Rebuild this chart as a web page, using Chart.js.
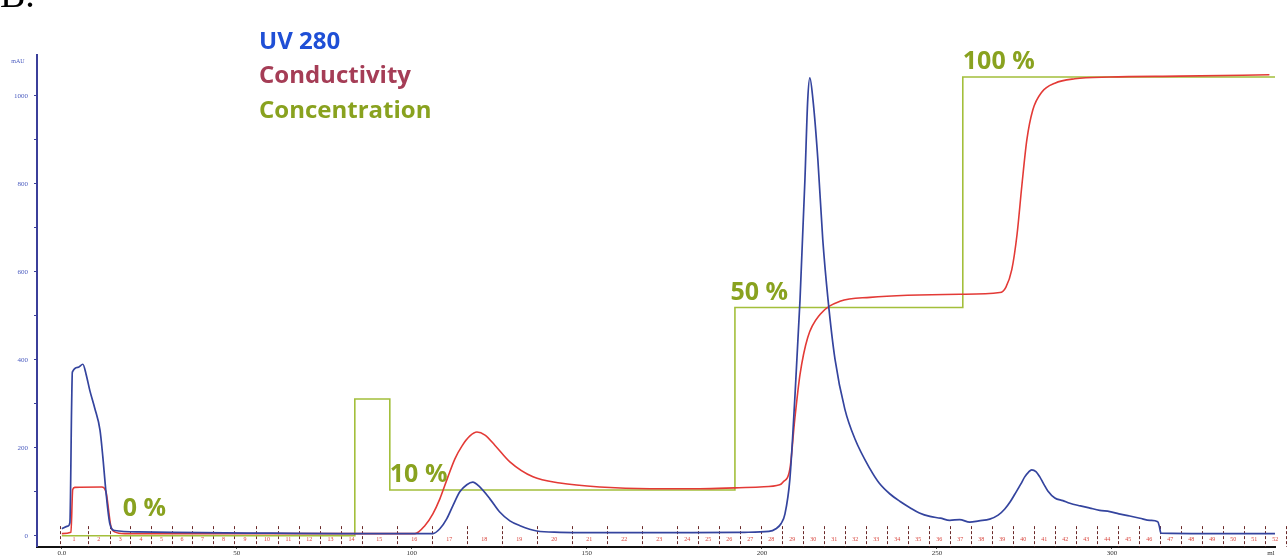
<!DOCTYPE html>
<html>
<head>
<meta charset="utf-8">
<style>
  html, body { margin: 0; padding: 0; background: #ffffff; }
  canvas { display: block; }
</style>
<script src="https://cdn.jsdelivr.net/npm/chart.js@4.4.1/dist/chart.umd.min.js"></script>
</head>
<body>
<canvas id="chrom" width="1287" height="557"></canvas>
<script>
// Elution volume (ml) and UV 280 absorbance (mAU)
const uvVolume = [0, 1.7, 2.3, 2.8, 3.0, 4.6, 6.0, 6.9, 8.0, 9.4, 10.9, 11.7, 12.6, 13.7, 15.1, 22, 40, 60, 80, 100,
  106, 108, 110, 111.7, 113.7, 115.7, 117.4, 119.4, 122.3, 125.1, 128, 130.9, 135.7, 142.3, 150, 165, 180, 195,
  202, 204, 205.5, 206.6, 208, 209.4, 210.9, 212.3, 213.1, 213.7, 214.6, 216, 217.4, 218.9, 220.9, 223.7, 226.6, 230.9, 233.5, 236.6,
  239.5, 242.3, 245, 248, 251, 253.7, 256.5, 259.4, 262, 265.1, 267.5, 269.4, 271, 272.3, 274, 275.1, 276.2, 277.1, 278.3, 279.4,
  280.5, 281.7, 283.7, 286, 288, 291, 293.7, 296.5, 299.4, 302, 305.1, 308, 310.9, 313.1, 313.6, 314, 330, 346.6];
const uvAbs = [16, 22, 30, 300, 372, 383, 390, 368, 330, 290, 240, 180, 100, 28, 12, 9, 7, 6, 5, 5,
  5, 16, 39, 68, 100, 116, 122, 111, 84, 54, 34, 23, 11, 8, 7, 7, 7, 8,
  10, 16, 28, 50, 129, 311, 537, 810, 991, 1041, 991, 855, 673, 537, 401, 288, 220, 152, 120, 95,
  78, 64, 52, 44, 40, 35, 37, 31, 34, 38, 47, 61, 78, 95, 118, 134, 145, 150, 146, 134,
  118, 102, 86, 80, 74, 68, 63, 58, 55, 50, 45, 40, 35, 32, 20, 6, 5, 5];

// Conductivity trace (scaled to the same axis)
const condVolume = [0, 2.6, 3.1, 3.7, 11.4, 12.6, 14, 15.1, 18, 40, 80, 100.9,
  103.7, 106, 108, 110.3, 112.3, 114.3, 116.6, 118.6, 120.9, 123.7, 128, 134.6, 142.3, 153.7, 168, 182.3, 192.3, 199.4, 205.1,
  206, 208, 209.4, 210.9, 213.1, 216.6, 222.3, 230.9, 256.6, 268, 269.7, 271.4, 272.9, 274.3, 275.7, 277.4, 280, 283.7, 289.4, 299.4, 319.4, 345];
const condValue = [5, 8, 105, 110, 111, 100, 22, 9, 5, 5, 5, 5,
  23, 50, 84, 134, 175, 204, 227, 236, 229, 206, 168, 134, 120, 111, 107, 107, 109, 111, 116,
  122, 152, 265, 367, 451, 503, 533, 542, 549, 553, 565, 605, 685, 798, 900, 968, 1009, 1029, 1039, 1043, 1045, 1048];

// Buffer B concentration programme: step start volumes and levels
const concVolume = [0, 83.7, 93.7, 192.3, 257.4, 346.6];
const concLevel = [0, 311, 104, 519, 1043, 1043];
const concLabels = ['0 %', '10 %', '50 %', '100 %'];
const concLabelAt = [[17.4, 61], [93.7, 138], [191, 553], [257.4, 1077]];

// Fraction collector edges (ml) and numbering
const fracEdges = [-0.5, 7.4, 13.7, 19.6, 25.6, 31.4, 37.2, 43.2, 49.2, 55.5, 61.7, 67.7, 73.7, 79.8, 85.7,
  95.7, 105.7, 115.7, 125.7, 135.7, 145.7, 155.7, 165.7, 175.7,
  181.7, 187.7, 193.7, 199.7, 205.7, 211.7, 217.7, 223.7, 229.7, 235.7, 241.7, 247.7, 253.7, 259.7,
  265.7, 271.7, 277.7, 283.7, 289.7, 295.7, 301.7, 307.7, 313.7, 319.7, 325.7, 331.7, 337.7, 343.7, 349.7];

// Axis ticks
const xTicks = [0, 50, 100, 150, 200, 250, 300];
const yTicks = [0, 100, 200, 300, 400, 500, 600, 700, 800, 900, 1000];

const pts = (xs, ys) => xs.map((x, i) => ({ x: x, y: ys[i] }));

const OLIVE = '#89a21f';
const NAME_FONT = 'bold 24px "Open Sans"';
const STEP_FONT = 'bold 25px "Open Sans"';

const annotations = {
  id: 'annotations',
  beforeDatasetsDraw(chart) {
    const { ctx, scales: { x, y }, chartArea } = chart;
    ctx.save();
    const top = y.getPixelForValue(22);
    const bottom = chartArea.bottom;
    ctx.lineWidth = 1;
    ctx.setLineDash([3, 2]);
    ctx.strokeStyle = '#6b2a2a';
    fracEdges.forEach(v => {
      const px = Math.round(x.getPixelForValue(v)) + 0.5;
      ctx.beginPath();
      ctx.moveTo(px, top);
      ctx.lineTo(px, bottom);
      ctx.stroke();
    });
    ctx.setLineDash([]);
    ctx.fillStyle = '#d8463e';
    ctx.font = '6px "Liberation Serif"';
    ctx.textAlign = 'center';
    ctx.textBaseline = 'middle';
    const ly = y.getPixelForValue(-9);
    for (let i = 0; i < fracEdges.length - 1; i++) {
      const mid = (fracEdges[i] + fracEdges[i + 1]) / 2;
      ctx.fillText(String(i + 1), x.getPixelForValue(mid), ly);
    }
    ctx.restore();
  },
  afterDraw(chart) {
    const { ctx, scales: { x, y }, chartArea } = chart;
    ctx.save();
    // panel letter
    ctx.fillStyle = '#000';
    ctx.font = '38px "Liberation Serif"';
    ctx.textAlign = 'left';
    ctx.textBaseline = 'alphabetic';
    ctx.fillText('B.', 0, 7);

    // trace names
    ctx.font = NAME_FONT;
    ctx.textBaseline = 'middle';
    ctx.fillStyle = '#1f4fd6';
    ctx.fillText('UV 280', 259, 42);
    ctx.fillStyle = '#a53d56';
    ctx.fillText('Conductivity', 259, 76);
    ctx.fillStyle = OLIVE;
    ctx.fillText('Concentration', 259, 111);

    // concentration step labels
    ctx.font = STEP_FONT;
    ctx.fillStyle = OLIVE;
    concLabels.forEach((t, i) => {
      const [vx, vy] = concLabelAt[i];
      ctx.fillText(t, x.getPixelForValue(vx), y.getPixelForValue(vy));
    });

    // axis units
    ctx.font = '6px "Liberation Serif"';
    ctx.fillStyle = '#4a5bbf';
    ctx.textAlign = 'center';
    ctx.fillText('mAU', 18, chartArea.top + 6);
    ctx.font = '7px "Liberation Serif"';
    ctx.fillStyle = '#333';
    ctx.textBaseline = 'top';
    ctx.fillText('ml', chartArea.right - 4, chartArea.bottom + 3);
    ctx.restore();
  }
};

new Chart(document.getElementById('chrom'), {
  type: 'line',
  data: {
    datasets: [
      {
        label: 'UV 280',
        data: pts(uvVolume, uvAbs),
        borderColor: '#34449e',
        borderWidth: 1.7,
        pointRadius: 0,
        cubicInterpolationMode: 'monotone',
        order: 1
      },
      {
        label: 'Conductivity',
        data: pts(condVolume, condValue),
        borderColor: '#e33a36',
        borderWidth: 1.6,
        pointRadius: 0,
        cubicInterpolationMode: 'monotone',
        order: 2
      },
      {
        label: 'Concentration',
        data: pts(concVolume, concLevel),
        borderColor: '#a3bf3b',
        borderWidth: 1.6,
        pointRadius: 0,
        stepped: 'before',
        order: 3
      }
    ]
  },
  options: {
    responsive: false,
    animation: false,
    layout: { padding: { top: 55, right: 12, left: 0, bottom: 0 } },
    plugins: { legend: { display: false }, tooltip: { enabled: false } },
    scales: {
      x: {
        type: 'linear',
        min: -7.1,
        max: 346.6,
        afterBuildTicks: s => { s.ticks = xTicks.map(v => ({ value: v })); },
        afterFit: s => { s.height = 9; },
        grid: { drawOnChartArea: false, drawTicks: true, tickLength: 2, color: '#222' },
        border: { display: true, color: '#111', width: 2 },
        ticks: {
          autoSkip: false, maxRotation: 0, padding: 0, color: '#333',
          font: { size: 7, family: 'Liberation Serif' },
          callback: v => (v === 0 ? '0.0' : String(v))
        }
      },
      y: {
        type: 'linear',
        min: -25,
        max: 1093,
        afterBuildTicks: s => { s.ticks = yTicks.map(v => ({ value: v })); },
        afterFit: s => { s.width = 37; },
        grid: { drawOnChartArea: false, drawTicks: true, tickLength: 3, color: '#3b3f9a' },
        border: { display: true, color: '#3b3f9a', width: 2 },
        ticks: {
          autoSkip: false, padding: 6, color: '#4a5bbf',
          font: { size: 7, family: 'Liberation Serif' },
          callback: v => (v % 200 === 0 ? String(v) : '')
        }
      }
    }
  },
  plugins: [annotations]
});
</script>
</body>
</html>
